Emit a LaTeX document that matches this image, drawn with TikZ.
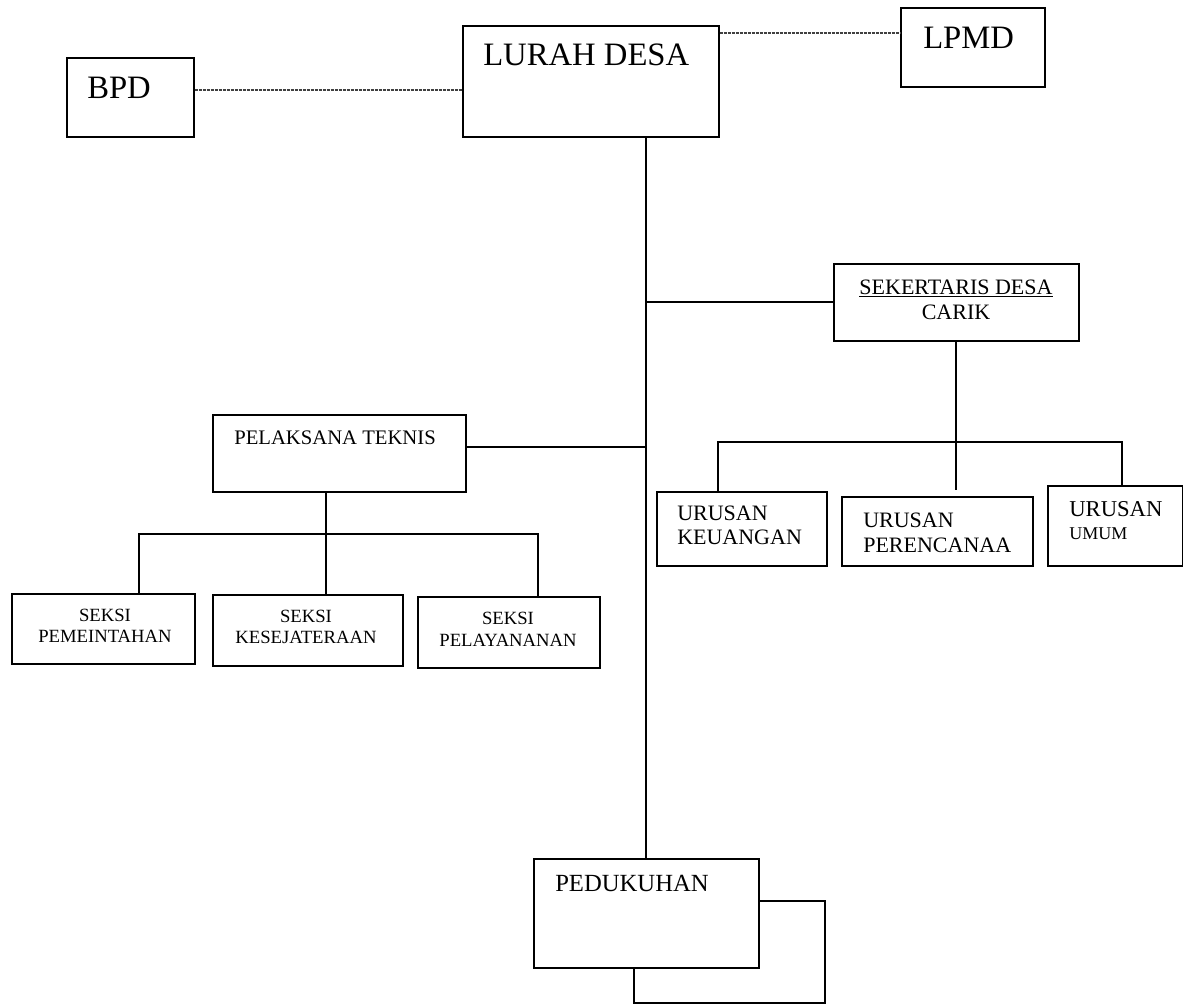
\documentclass[tikz,border=0pt]{standalone}
\usepackage{fontspec}
\setmainfont{Liberation Serif}
\newcommand\sz[2]{\fontsize{#1pt}{#2pt}\selectfont}
\tikzset{
  box/.style 2 args={draw, line width=1.2pt, inner sep=0pt, anchor=north west,
    minimum width=#1*0.75pt, minimum height=#2*0.75pt},
  txt/.style={inner sep=0pt, anchor=west, align=left},
  dotline/.style={draw=gray!50!black, line width=1.2pt, dash pattern=on 2.2pt off 0.8pt},
  conn/.style={line width=1.5pt}
}
\begin{document}
\begin{tikzpicture}[x=0.75pt,y=-0.75pt]
\useasboundingbox (0,0) rectangle (1183,1005);
% boxes
\node[box={127}{79}] (bpd) at (66,57) {};
\node[box={256}{111}] (lurah) at (462,25) {};
\node[box={144}{79}] (lpmd) at (900,7) {};
\node[box={245}{77}] (sek) at (833,263) {};
\node[box={253}{77}] (pel) at (212,414) {};
\node[box={170}{74}] (keu) at (656,491) {};
\node[box={191}{69}] (ren) at (841,496) {};
\node[box={135}{80}] (umum) at (1047,485) {};
\node[box={183}{70}] (pem) at (11,593) {};
\node[box={190}{71}] (kes) at (212,594) {};
\node[box={182}{71}] (lay) at (417,596) {};
\node[box={225}{109}] (ped) at (533,858) {};

% texts
\node[txt, font=\sz{24.5}{29}] (tbpd) at (87,88) {BPD};
\node[txt, font=\sz{24.5}{29}] (tlurah) at (483,55) {LURAH DESA};
\node[txt, font=\sz{24.5}{29}] (tlpmd) at (923,38) {LPMD};
\node[txt, anchor=center, align=center, font=\sz{16.5}{19}] (tsek) at (956,300)
  {\underline{SEKERTARIS DESA}\\CARIK};
\node[txt, font=\sz{15.5}{19}] (tpel) at (234,438) {PELAKSANA TEKNIS};
\node[txt, font=\sz{16.5}{18}] (tkeu) at (677,525) {URUSAN\\KEUANGAN};
\node[txt, font=\sz{16.5}{19}] (tren) at (863,532.5) {URUSAN\\PERENCANAA};
\node[txt, font=\sz{17}{17}] (tumum) at (1069,520.5) {URUSAN\\\sz{13.5}{17}UMUM};
\node[txt, anchor=center, align=center, font=\sz{14}{16}] (tpem) at (105,625.5) {SEKSI\\PEMEINTAHAN};
\node[txt, anchor=center, align=center, font=\sz{14}{15.5}] (tkes) at (306,627) {SEKSI\\KESEJATERAAN};
\node[txt, anchor=center, align=center, font=\sz{14}{16.5}] (tlay) at (508,629) {SEKSI\\PELAYANANAN};
\node[txt, font=\sz{18.5}{22}] (tped) at (555,883) {PEDUKUHAN};

% dotted links
\draw[dotline] ([yshift=5.6pt]bpd.east) -- ([yshift=5.6pt]bpd.east -| lurah.west);
\draw[dotline] ([yshift=-6pt]lurah.north east) -- ([yshift=-6pt]lurah.north east -| lpmd.west);

% trunk
\draw[conn] (lurah.south -| ped.north) -- (ped.north);
\draw[conn] (sek.west) -- (sek.west -| ped.north);
\draw[conn] ([yshift=4.9pt]pel.east) -- ([yshift=4.9pt]pel.east -| ped.north);

% sekertaris branch
\coordinate (sj) at (956,490);
\coordinate (ka) at (718,442);
\coordinate (ua) at (1122,442);
\draw[conn] (sek.south) -- (sek.south |- sj);
\draw[conn] (ka |- keu.north) -- (ka) -- (ua) -- (ua |- umum.north);

% pelaksana branch
\coordinate (pj) at (326,534);
\coordinate (pa) at (139,534);
\coordinate (pb) at (538,534);
\draw[conn] (pj |- pel.south) -- (pj |- kes.north);
\draw[conn] (pa |- pem.north) -- (pa) -- (pb) -- (pb |- lay.north);

% pedukuhan loop
\coordinate (pc) at (825,1003);
\draw[conn] ([yshift=9pt]ped.east) -| (pc) -| ([xshift=-9pt]ped.south);
\end{tikzpicture}
\end{document}
